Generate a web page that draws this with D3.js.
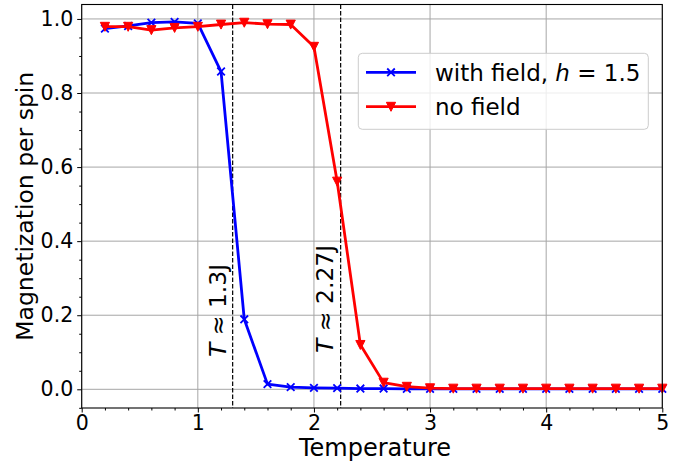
<!DOCTYPE html>
<html>
<head>
<meta charset="utf-8">
<script src="https://cdn.jsdelivr.net/npm/d3@7"></script>
<style>
    body { margin: 0; background: white; }
    text { font-family: "DejaVu Sans", sans-serif; fill: black; }
</style>
</head>
<body>
<svg width="680" height="468"></svg>
<script>
// temperatures sampled in the run
const temperatures = [0.2, 0.4, 0.6, 0.8, 1.0, 1.2, 1.4, 1.6, 1.8, 2.0, 2.2, 2.4, 2.6,
    2.8, 3.0, 3.2, 3.4, 3.6, 3.8, 4.0, 4.2, 4.4, 4.6, 4.8, 5.0];
// magnetization per spin
const withField = [0.974, 0.981, 0.990, 0.992, 0.988, 0.858, 0.189, 0.014, 0.006, 0.004, 0.003, 0.002, 0.002,
    0.001, 0.001, 0.001, 0.001, 0.001, 0.001, 0.001, 0.001, 0.001, 0.001, 0.001, 0.001];
const noField = [0.979, 0.979, 0.970, 0.976, 0.979, 0.985, 0.990, 0.986, 0.985, 0.925, 0.561, 0.120, 0.018,
    0.007, 0.003, 0.002, 0.002, 0.002, 0.002, 0.002, 0.002, 0.002, 0.002, 0.002, 0.002];
// critical temperature markers
const criticalT = [1.3, 2.23];
const criticalLabels = ["1.3", "2.27"];
const criticalLabelPos = [[1.243, 0.087], [2.164, 0.098]];
const xTicks = [0, 1, 2, 3, 4, 5];
const yTicks = [0.0, 0.2, 0.4, 0.6, 0.8, 1.0];

const svg = d3.select("svg");
const plotLeft = 81.7, plotRight = 662.3, plotTop = 4.5, plotBottom = 408;

const xScale = d3.scaleLinear().domain([0, 5]).range([plotLeft, plotRight]);
const yScale = d3.scaleLinear().domain([-0.0505, 1.039]).range([plotBottom, plotTop]);

// grid
const grid = svg.append("g").attr("stroke", "#a6a6a6").attr("stroke-width", 1);
grid.selectAll(".vx").data(xTicks).enter().append("line")
    .attr("x1", d => xScale(d)).attr("x2", d => xScale(d))
    .attr("y1", plotTop).attr("y2", plotBottom);
grid.selectAll(".hy").data(yTicks).enter().append("line")
    .attr("x1", plotLeft).attr("x2", plotRight)
    .attr("y1", d => yScale(d)).attr("y2", d => yScale(d));

// axes
const xAxis = svg.append("g")
    .attr("transform", "translate(0," + plotBottom + ")")
    .call(d3.axisBottom(xScale).tickValues(xTicks).tickFormat(d3.format("d")).tickSize(4.5).tickPadding(3));
const xMinor = svg.append("g")
    .attr("transform", "translate(0," + plotBottom + ")")
    .call(d3.axisBottom(xScale).tickValues(d3.range(0, 5.01, 0.2).filter(v => Math.abs(v - Math.round(v)) > 1e-6))
        .tickFormat("").tickSize(2.5));
const yAxis = svg.append("g")
    .attr("transform", "translate(" + plotLeft + ",0)")
    .call(d3.axisLeft(yScale).tickValues(yTicks).tickFormat(d3.format(".1f")).tickSize(4.5).tickPadding(4));
const yMinor = svg.append("g")
    .attr("transform", "translate(" + plotLeft + ",0)")
    .call(d3.axisLeft(yScale).tickValues(d3.range(-0.05, 1.04, 0.05).filter(v => Math.abs(v * 5 - Math.round(v * 5)) > 1e-6))
        .tickFormat("").tickSize(2.5));

[xAxis, xMinor, yAxis, yMinor].forEach(function (g) {
    g.select(".domain").remove();
    g.selectAll("line").attr("stroke", "black").attr("stroke-width", 1);
});
xAxis.selectAll("text").style("font-size", "20.5px").style("font-family", "DejaVu Sans");
yAxis.selectAll("text").style("font-size", "20.5px").style("font-family", "DejaVu Sans");

// dashed lines at the transitions
svg.selectAll(".crit").data(criticalT).enter().append("line")
    .attr("x1", d => xScale(d)).attr("x2", d => xScale(d))
    .attr("y1", plotTop).attr("y2", plotBottom)
    .attr("stroke", "black").attr("stroke-width", 1.2)
    .attr("stroke-dasharray", "4.5,2");

criticalLabels.forEach(function (lab, i) {
    const px = xScale(criticalLabelPos[i][0]), py = yScale(criticalLabelPos[i][1]);
    const t = svg.append("text")
        .attr("transform", "translate(" + px + "," + py + ")rotate(-90)")
        .style("font-size", "23.5px");
    t.append("tspan").style("font-style", "italic").text("T");
    t.append("tspan").text(" \u2248 " + lab + "J");
});

// series lines
const line = d3.line()
    .x(d => xScale(d[0]))
    .y(d => yScale(d[1]));

const xMark = "M-3.8,-3.8L3.8,3.8M-3.8,3.8L3.8,-3.8";
const vMark = "M-4.6,-4.4L4.6,-4.4L0,4.6Z";

function drawSeries(values, color, marker) {
    const pts = temperatures.map((t, i) => [t, values[i]]);
    const g = svg.append("g");
    g.append("path")
        .datum(pts)
        .attr("d", line)
        .style("fill", "none")
        .style("stroke", color)
        .style("stroke-width", 2.8)
        .style("stroke-linejoin", "round");
    g.selectAll("path.mk").data(pts).enter().append("path")
        .attr("class", "mk")
        .attr("transform", d => "translate(" + xScale(d[0]) + "," + yScale(d[1]) + ")")
        .attr("d", marker)
        .style("fill", color)
        .style("stroke", color)
        .style("stroke-width", marker === xMark ? 1.8 : 1);
}

drawSeries(withField, "#0000ff", xMark);
drawSeries(noField, "#ff0000", vMark);

// frame
svg.append("rect")
    .attr("x", plotLeft).attr("y", plotTop)
    .attr("width", plotRight - plotLeft).attr("height", plotBottom - plotTop)
    .style("fill", "none").style("stroke", "black").style("stroke-width", 1.1);

// legend
const legend = svg.append("g");
legend.append("rect")
    .attr("x", 358.3).attr("y", 53.3)
    .attr("width", 290).attr("height", 76)
    .attr("rx", 4)
    .style("fill", "white").style("fill-opacity", 0.8)
    .style("stroke", "#cccccc").style("stroke-width", 1);

const legendRows = [
    { color: "#0000ff", marker: xMark, y: 72.3 },
    { color: "#ff0000", marker: vMark, y: 106.7 }
];
legendRows.forEach(function (r, i) {
    legend.append("line")
        .attr("x1", 366).attr("x2", 416)
        .attr("y1", r.y).attr("y2", r.y)
        .style("stroke", r.color).style("stroke-width", 2.8);
    legend.append("path")
        .attr("transform", "translate(391," + r.y + ")")
        .attr("d", r.marker)
        .style("fill", r.color).style("stroke", r.color)
        .style("stroke-width", i === 0 ? 1.8 : 1);
    const t = legend.append("text")
        .attr("x", 435).attr("y", r.y)
        .attr("dy", "0.36em")
        .style("font-size", "23px");
    if (i === 0) {
        t.append("tspan").text("with field, ");
        t.append("tspan").style("font-style", "italic").text("h");
        t.append("tspan").text(" = 1.5");
    } else {
        t.text("no field");
    }
});

// axis labels
svg.append("text")
    .attr("x", (plotLeft + plotRight) / 2 + 3).attr("y", 456)
    .attr("text-anchor", "middle")
    .style("font-size", "24px")
    .text("Temperature");

svg.append("text")
    .attr("transform", "translate(33," + ((plotTop + plotBottom) / 2) + ")rotate(-90)")
    .attr("text-anchor", "middle")
    .style("font-size", "23.5px")
    .text("Magnetization per spin");
</script>
</body>
</html>
